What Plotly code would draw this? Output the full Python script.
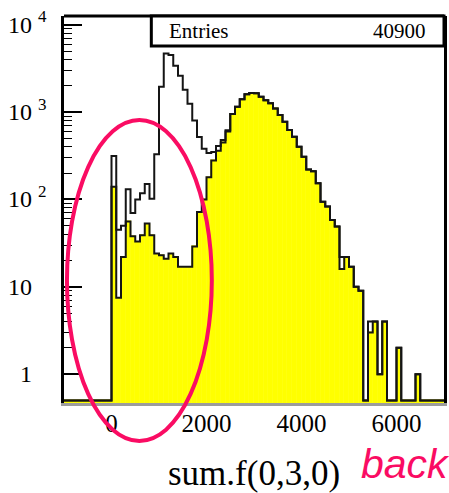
import numpy as np
import plotly.graph_objects as go

# Histogram binning: 80 bins of width 100 from -1000 to 7000
BIN_LOW = -1000
BIN_WIDTH = 100
N_BINS = 80

# Background sample (yellow, filled)
back_counts = [
    0, 0, 0, 0, 0, 0, 0, 0, 0, 0,
    140, 7.5, 22, 56, 38, 33, 39, 53, 39, 24,
    23, 21, 24, 22, 17, 17, 17, 29, 72, 100,
    180, 280, 360, 450, 600, 950, 1150, 1400, 1600, 1650,
    1640, 1500, 1370, 1260, 1100, 924, 776, 623, 522, 401,
    309, 220, 210, 153, 94, 83, 58, 49, 16, 22,
    17, 10, 9, 0, 3, 4, 1, 4, 0, 0,
    2, 0, 0, 0, 1, 0, 0, 0, 0, 0,
]

# Full sample (hollow outline)
total_counts = [
    0, 0, 0, 0, 0, 0, 0, 0, 0, 0,
    314, 45, 50, 131, 70, 100, 118, 150, 102, 330,
    1950, 4700, 4500, 3400, 2600, 1800, 1250, 800, 520, 380,
    340, 350, 410, 480, 620, 950, 1150, 1400, 1600, 1650,
    1640, 1500, 1370, 1260, 1100, 924, 776, 623, 522, 401,
    309, 220, 210, 153, 94, 83, 58, 49, 22, 22,
    17, 10, 9, 0, 4, 4, 1, 4, 0, 0,
    2, 0, 0, 0, 1, 0, 0, 0, 0, 0,
]

ENTRIES = 40900
x_tick_vals = [0, 2000, 4000, 6000]
x_tick_text = ["0", "2000", "4000", "6000"]
y_decades = [0, 1, 2, 3, 4]

X_RANGE = [-1000, 7000]
LOG_RANGE = [-0.33, 4.1]
LOG_FLOOR = 0.5  # empty bins sit just above the bottom of the frame

SERIF = "Liberation Serif"
PINK = "#FA0C63"
YELLOW = "#FFFF00"
LINE = "#151515"

edges = BIN_LOW + BIN_WIDTH * np.arange(N_BINS + 1)
centers = edges[:-1] + BIN_WIDTH / 2


def shown(counts):
    return [max(c, LOG_FLOOR) for c in counts]


def step_y(counts):
    vals = shown(counts)
    return vals + [vals[-1]]


fig = go.Figure()

# yellow fill of the background histogram
fig.add_trace(go.Bar(
    x=centers, y=shown(back_counts), width=BIN_WIDTH,
    marker=dict(color=YELLOW, line=dict(color=YELLOW, width=0.6)),
    hoverinfo="skip", showlegend=False,
))
# outline of the full sample
fig.add_trace(go.Scatter(
    x=edges, y=step_y(total_counts), mode="lines", line_shape="hv",
    line=dict(color=LINE, width=2), hoverinfo="skip", showlegend=False,
))
# outline of the background histogram
fig.add_trace(go.Scatter(
    x=edges, y=step_y(back_counts), mode="lines", line_shape="hv",
    line=dict(color=LINE, width=2), hoverinfo="skip", showlegend=False,
))

minor_vals = [m * 10 ** d for d in y_decades[:-1] for m in range(2, 10)]
minor_vals += [m * 10 ** y_decades[-1] for m in range(2, 3)]

fig.update_layout(
    width=449, height=493,
    margin=dict(l=64, r=2, t=16, b=90),
    paper_bgcolor="white", plot_bgcolor="white",
    bargap=0,
    xaxis=dict(
        range=X_RANGE, tickvals=x_tick_vals, ticktext=x_tick_text,
        ticks="", ticklabelstandoff=-4,
        showgrid=False, zeroline=False,
        showline=True, linecolor="#9c9c9c", linewidth=3,
        tickfont=dict(family=SERIF, size=25, color="black"),
    ),
    yaxis=dict(
        type="log", range=LOG_RANGE,
        tickvals=[10 ** d for d in y_decades], showticklabels=False,
        ticks="inside", ticklen=18, tickwidth=1.6, tickcolor="black",
        minor=dict(tickvals=minor_vals, ticks="inside", ticklen=8,
                   tickwidth=1.4, tickcolor="black"),
        showgrid=False, zeroline=False,
        showline=True, mirror=True, linecolor="black", linewidth=2.5,
    ),
)

shapes = [
    # top edge of the frame
    dict(type="line", xref="paper", yref="paper", x0=0, x1=1, y0=1, y1=1,
         line=dict(color="black", width=3), layer="above"),
    # statistics box
    dict(type="rect", xref="paper", yref="paper",
         x0=0.2298, x1=1.0, y0=0.9225, y1=1.0,
         fillcolor="white", line=dict(color="black", width=3), layer="above"),
    # highlighted low-energy region
    dict(type="circle", xref="paper", yref="paper",
         x0=0.0078, x1=0.389, y0=-0.098, y1=0.731,
         line=dict(color=PINK, width=4), layer="above"),
]
fig.update_layout(shapes=shapes)

annotations = []
# y tick labels written as 10^n
for d in y_decades:
    base = "1" if d == 0 else "10"
    annotations.append(dict(
        xref="paper", yref="y", x=-0.08, y=d, text=base, showarrow=False,
        xanchor="right", yanchor="middle",
        font=dict(family=SERIF, size=24, color="black"),
    ))
    if d >= 2:
        annotations.append(dict(
            xref="paper", yref="y", x=-0.075, y=d + 0.09, text=str(d),
            showarrow=False, xanchor="left", yanchor="middle",
            font=dict(family=SERIF, size=17, color="black"),
        ))

annotations += [
    dict(xref="paper", yref="paper", x=0.27, y=0.961, text="Entries",
         showarrow=False, xanchor="left", yanchor="middle",
         font=dict(family=SERIF, size=21, color="black")),
    dict(xref="paper", yref="paper", x=0.958, y=0.961, text=f"{ENTRIES}",
         showarrow=False, xanchor="right", yanchor="middle",
         font=dict(family=SERIF, size=21, color="black")),
    dict(xref="paper", yref="paper", x=0.5, y=-0.181, text="sum.f(0,3,0)",
         showarrow=False, xanchor="center", yanchor="middle",
         font=dict(family=SERIF, size=35, color="black")),
    dict(xref="paper", yref="paper", x=0.775, y=-0.157, text="<i>back</i>",
         showarrow=False, xanchor="left", yanchor="middle",
         font=dict(family="Liberation Sans", size=41, color=PINK)),
]
fig.update_layout(annotations=annotations)

fig.write_html("out.html")
